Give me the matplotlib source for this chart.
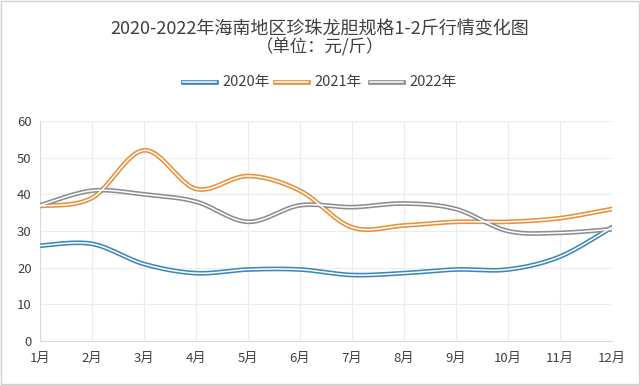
import numpy as np
import matplotlib.pyplot as plt
from matplotlib.patches import Rectangle

plt.rcParams['font.family'] = ['Noto Sans CJK SC', 'DejaVu Sans']

months = ['1月', '2月', '3月', '4月', '5月', '6月', '7月', '8月', '9月', '10月', '11月', '12月']
p2020 = [26, 26.5, 21, 18.5, 19.5, 19.5, 18, 18.5, 19.5, 19.5, 23, 31]
p2021 = [36.8, 39, 52, 41.5, 45, 41, 31, 31.5, 32.5, 32.5, 33.5, 36]
p2022 = [37, 41, 40, 38, 32.5, 37, 36.5, 37.5, 36, 30, 29.5, 30.5]

series = [('2020年', p2020, '#3d88b9'), ('2021年', p2021, '#e8913c'), ('2022年', p2022, '#8c8e95')]


def smooth(y, n=30):
    # catmull-rom style smoothing like excel's smoothed lines
    y = np.asarray(y, float)
    x = np.arange(len(y), dtype=float)
    pts = np.column_stack([x, y])
    ext = np.vstack([pts[0], pts, pts[-1]])
    out = []
    for i in range(len(pts) - 1):
        p0, p1, p2, p3 = ext[i], ext[i + 1], ext[i + 2], ext[i + 3]
        c1 = p1 + (p2 - p0) / 6
        c2 = p2 - (p3 - p1) / 6
        t = np.linspace(0, 1, n)[:, None]
        seg = (1 - t) ** 3 * p1 + 3 * (1 - t) ** 2 * t * c1 + 3 * (1 - t) * t ** 2 * c2 + t ** 3 * p2
        out.append(seg if i == 0 else seg[1:])
    out = np.vstack(out)
    return out[:, 0], out[:, 1]


fig = plt.figure(figsize=(6.4, 3.85), dpi=100)
ax = fig.add_axes([0.0625, 0.1143, 0.8935, 0.5714])

for name, vals, col in series:
    xs, ys = smooth(vals)
    ax.plot(xs, ys, color=col, lw=3.4, solid_capstyle='round', zorder=3)
    ax.plot(xs, ys, color='white', lw=1.1, solid_capstyle='round', zorder=4)

ax.set_xlim(0, 11)
ax.set_ylim(0, 60)
ax.set_yticks(range(0, 61, 10))
ax.set_xticks(range(12))
ax.set_xticklabels(months)
ax.tick_params(length=0, labelsize=9.5, colors='#404040', pad=8)
ax.tick_params(axis='y', pad=6)
ax.grid(True, color='#ececec', lw=0.8)
ax.set_axisbelow(True)
for s in ['top', 'right']:
    ax.spines[s].set_visible(False)
for s in ['left', 'bottom']:
    ax.spines[s].set_color('#d9d9d9')

fig.text(0.5, 0.922, '2020-2022年海南地区珍珠龙胆规格1-2斤行情变化图', ha='center', va='center',
         fontsize=13, color='#404040')
fig.text(0.5, 0.877, '（单位：元/斤）', ha='center', va='center', fontsize=12.5, color='#404040')

# legend
lx = [0.286, 0.430, 0.578]
for (name, vals, col), x0 in zip(series, lx):
    fig.add_artist(plt.Line2D([x0, x0 + 0.052], [0.787, 0.787], color=col, lw=3.4, transform=fig.transFigure))
    fig.add_artist(plt.Line2D([x0, x0 + 0.052], [0.787, 0.787], color='white', lw=1.1, transform=fig.transFigure))
    fig.text(x0 + 0.062, 0.787, name, ha='left', va='center', fontsize=10.5, color='#404040')

fig.add_artist(Rectangle((0.002, 0.003), 0.996, 0.994, transform=fig.transFigure, fill=False,
                         edgecolor='#d0d0d0', lw=1))

fig.savefig('out.png', dpi=100)
